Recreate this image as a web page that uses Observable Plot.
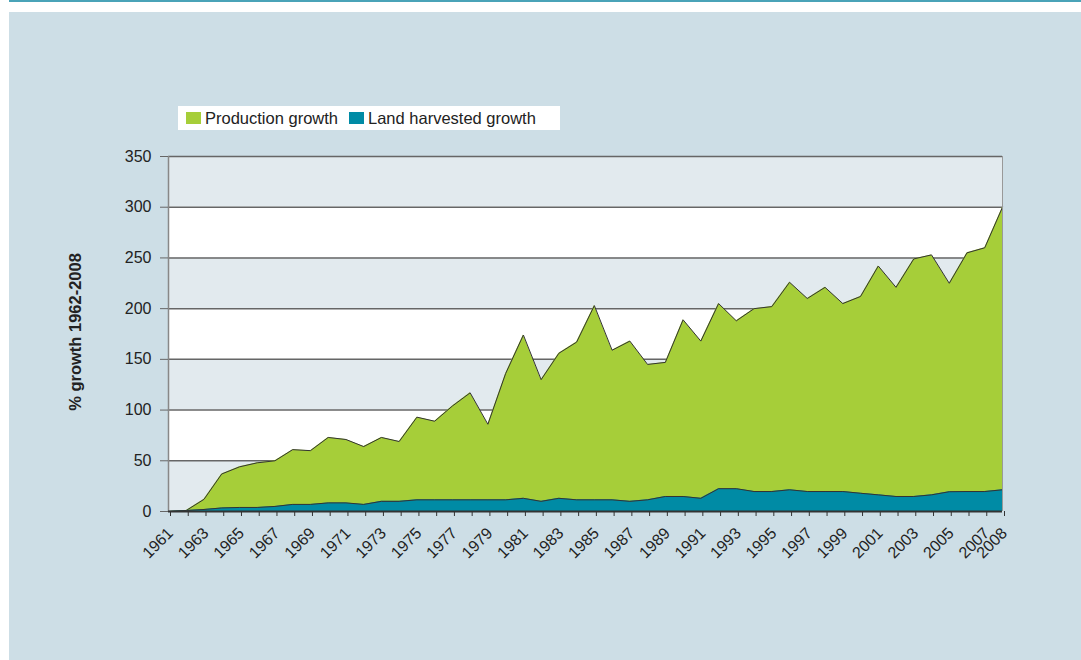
<!DOCTYPE html>
<html>
<head>
<meta charset="utf-8">
<script src="https://cdn.jsdelivr.net/npm/d3@7"></script>
<script src="https://cdn.jsdelivr.net/npm/@observablehq/plot@0.6"></script>
<style>
  body { margin: 0; background: #ffffff; font-family: "Liberation Sans", Arial, sans-serif; }
  #page { position: relative; width: 1081px; height: 660px; overflow: hidden; }
  #topline { position: absolute; left: 9px; top: 0; width: 1072px; height: 2px; background: #4aa3b8; }
  #panel { position: absolute; left: 9px; top: 12px; width: 1072px; height: 648px; background: #cddee6; }
  #chart { position: absolute; left: 0; top: 0; }
  #legend { position: absolute; left: 178px; top: 106px; width: 382px; height: 24px; background: #ffffff;
            display: flex; align-items: center; font-size: 16.5px; color: #222; }
  .sw { display: inline-block; width: 15px; height: 12px; margin-right: 4px; }
  .item { display: flex; align-items: center; margin-left: 8px; margin-right: 3px; }
  #ylabel { position: absolute; left: 75px; top: 332px; transform: translate(-50%, -50%) rotate(-90deg);
            white-space: nowrap; font-weight: bold; font-size: 16.5px; color: #222; }
</style>
</head>
<body>
<div id="page">
  <div id="topline"></div>
  <div id="panel"></div>
  <div id="chart"></div>
  <div id="legend">
    <span class="item"><span class="sw" style="background:#a6ce39"></span>Production growth</span>
    <span class="item"><span class="sw" style="background:#008ba5"></span>Land harvested growth</span>
  </div>
  <div id="ylabel">% growth 1962-2008</div>
</div>
<script>
const years = [1961,1962,1963,1964,1965,1966,1967,1968,1969,1970,1971,1972,1973,1974,1975,1976,1977,1978,1979,
  1980,1981,1982,1983,1984,1985,1986,1987,1988,1989,1990,1991,1992,1993,
  1994,1995,1996,1997,1998,1999,2000,2001,2002,2003,2004,2005,2006,2007,2008];
const production = [0,1,12,37,44,48,50,61,60,73,71,64,73,69,93,89,104,117,86,
  136,174,130,156,167,203,159,168,145,147,189,168,205,188,
  200,202,226,210,221,205,212,242,221,249,253,225,255,260,300];
const landHarvested = [0,1,2,3.5,4,4,5,7,7,8.5,8.5,7,10,10,11.5,11.5,11.5,11.5,11.5,
  11.5,13,10,13,11.5,11.5,11.5,10,11.5,14.8,14.8,13,22.5,22.5,
  19.7,19.7,21.4,19.7,19.7,19.7,18,16.4,14.8,14.8,16.4,19.5,19.7,19.7,21.4];
const yTicks = [0,50,100,150,200,250,300,350];
const bandLow = [0,100,200,300];
const bandHigh = [50,150,250,350];
const labelYears = [1961,1963,1965,1967,1969,1971,1973,1975,1977,1979,1981,1983,1985,1987,1989,1991,1993,1995,1997,1999,2001,2003,2005,2007,2008];

const data = years.map((y, i) => ({year: y, production: production[i], land: landHarvested[i]}));
const bands = bandLow.map((lo, i) => ({lo, hi: bandHigh[i]}));
const x0 = years[0], x1 = years[years.length - 1];

const chart = Plot.plot({
  width: 1081,
  height: 660,
  marginLeft: 168,
  marginRight: 79,
  marginTop: 156,
  marginBottom: 149,
  style: {background: "transparent", fontFamily: "'Liberation Sans', Arial, sans-serif", color: "#222"},
  x: {type: "linear", domain: [x0, x1]},
  y: {domain: [0, 350]},
  marks: [
    Plot.frame({fill: "#ffffff", stroke: "none"}),
    Plot.rect(bands, {x1: () => x0, x2: () => x1, y1: "lo", y2: "hi", fill: "#e2eaee"}),
    Plot.ruleY(yTicks.filter(d => d > 0), {x1: x0, x2: x1, stroke: "#666", strokeWidth: 1.5}),
    Plot.areaY(data, {x: "year", y: "production", fill: "#a6ce39"}),
    Plot.lineY(data, {x: "year", y: "production", stroke: "#333", strokeWidth: 1}),
    Plot.areaY(data, {x: "year", y: "land", fill: "#008ba5"}),
    Plot.lineY(data, {x: "year", y: "land", stroke: "#333", strokeWidth: 1}),
    Plot.ruleX([x0], {y1: 0, y2: 350, stroke: "#888", strokeWidth: 1.5}),
    Plot.ruleX([x1], {y1: 0, y2: 350, stroke: "#999", strokeWidth: 1}),
    Plot.ruleY([0], {x1: x0, x2: x1, stroke: "#333", strokeWidth: 2}),
    Plot.axisY({ticks: yTicks, tickSize: 8, tickPadding: 9, fontSize: 16, stroke: "#666", label: null}),
    Plot.axisX({ticks: years, tickSize: 5, tickPadding: 14, fontSize: 16, stroke: "#333", label: null,
      tickRotate: -45, dx: 2, tickFormat: d => labelYears.includes(d) ? String(d) : ""})
  ]
});
document.getElementById("chart").appendChild(chart);
</script>
</body>
</html>
